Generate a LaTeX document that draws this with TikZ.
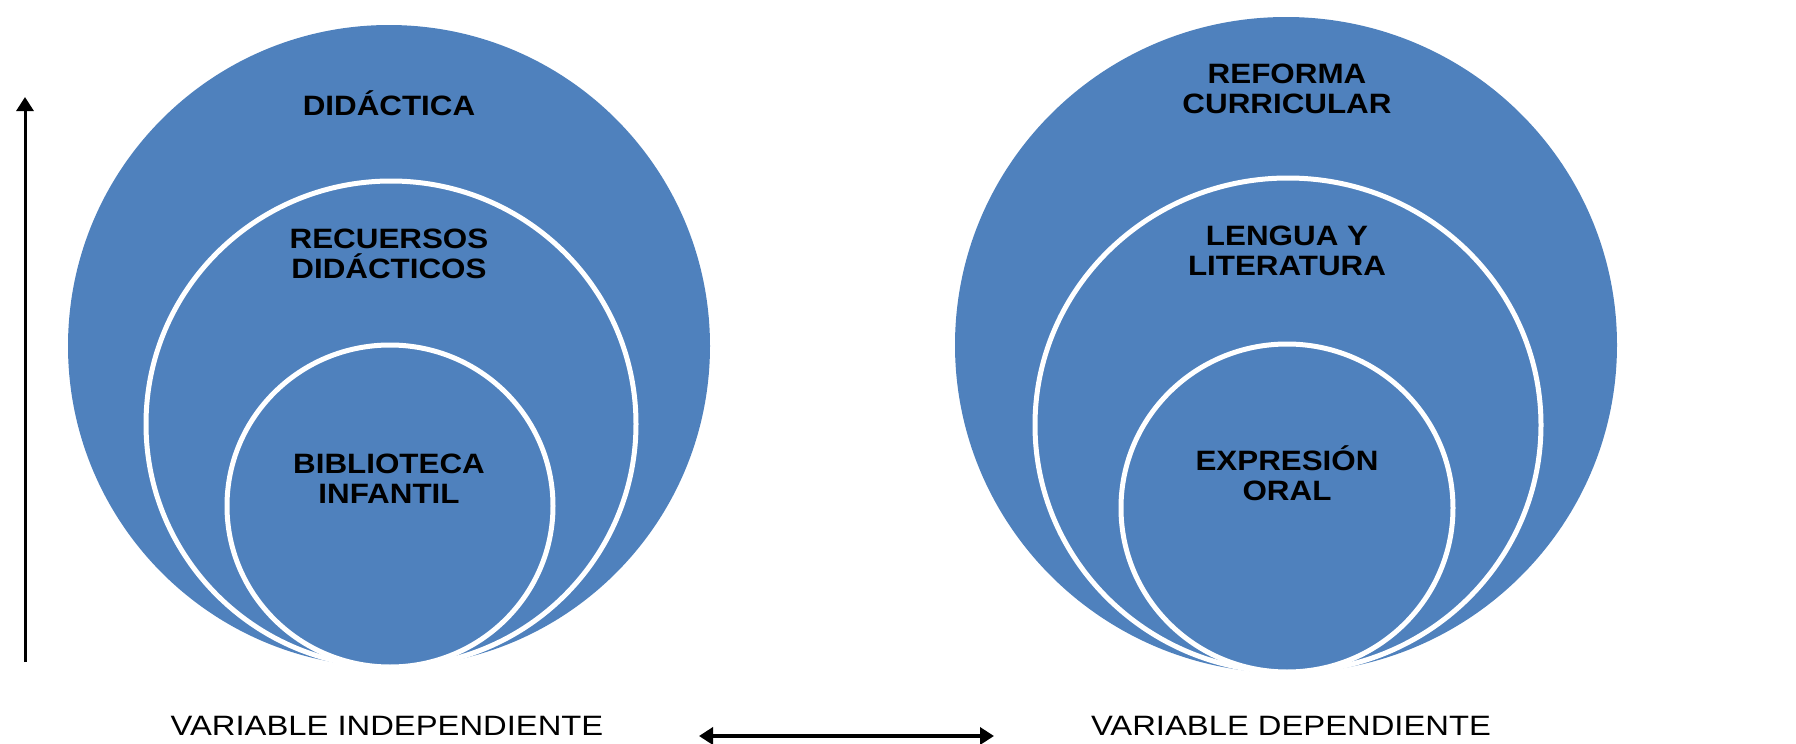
\documentclass[tikz,border=0pt]{standalone}
\usepackage{fontspec}
\setmainfont{Liberation Sans}
\newfontfamily\labfont[FakeStretch=1.12]{Liberation Sans}
\newfontfamily\varfont[FakeStretch=1.17]{Liberation Sans}
\usetikzlibrary{arrows.meta,shapes.geometric}
\definecolor{cblue}{RGB}{79,129,189}
\tikzset{
  ring/.style={ellipse, fill=cblue, draw=white, line width=2.5pt, inner sep=0pt},
  lab/.style={font=\labfont\fontsize{14}{15}\selectfont\bfseries, align=center, text=black, inner sep=0pt},
  varlab/.style={font=\varfont\fontsize{14}{15}\selectfont, text=black, inner sep=0pt},
  arr/.style={line width=1.5pt, -{Triangle[width=8.5pt,length=7pt]}},
  darr/.style={line width=1.8pt, {Triangle[width=8.5pt,length=7pt]}-{Triangle[width=8.5pt,length=7pt]}}
}
\begin{document}
\begin{tikzpicture}[x=0.5pt,y=-0.5pt]
\useasboundingbox (0,0) rectangle (1796,744);
% left
\node[ring, draw=none, minimum width=321pt, minimum height=321pt] (LO) at (389,346) {};
\node[ring, minimum width=245pt, minimum height=243pt] (LM) at (391,424) {};
\node[ring, minimum width=163pt, minimum height=161pt] (LI) at (390,506) {};
\node[lab] (t1) at (389,103) {DIDÁCTICA};
\node[lab] (t2) at (389,254) {RECUERSOS\\DIDÁCTICOS};
\node[lab] (t3) at (389,479) {BIBLIOTECA\\INFANTIL};
% right
\node[ring, draw=none, minimum width=331pt, minimum height=328pt] (RO) at (1286,345) {};
\node[ring, minimum width=253pt, minimum height=247pt] (RM) at (1288,425) {};
\node[ring, minimum width=166pt, minimum height=164pt] (RI) at (1287,508) {};
\node[lab] (t4) at (1287,89) {REFORMA\\CURRICULAR};
\node[lab] (t5) at (1287,251) {LENGUA Y\\LITERATURA};
\node[lab] (t6) at (1287,473) {EXPRESIÓN\\ORAL};
% bottom labels
\node[varlab] (v1) at (387,726) {VARIABLE INDEPENDIENTE};
\node[varlab] (v2) at (1291,726) {VARIABLE DEPENDIENTE};
\coordinate (a1) at (25,662);
\coordinate (a2) at (25,97);
\draw[arr] (a1) -- (a2);
\coordinate (b1) at (699,736);
\coordinate (b2) at (994,736);
\draw[darr] (b1) -- (b2);
\end{tikzpicture}
\end{document}
